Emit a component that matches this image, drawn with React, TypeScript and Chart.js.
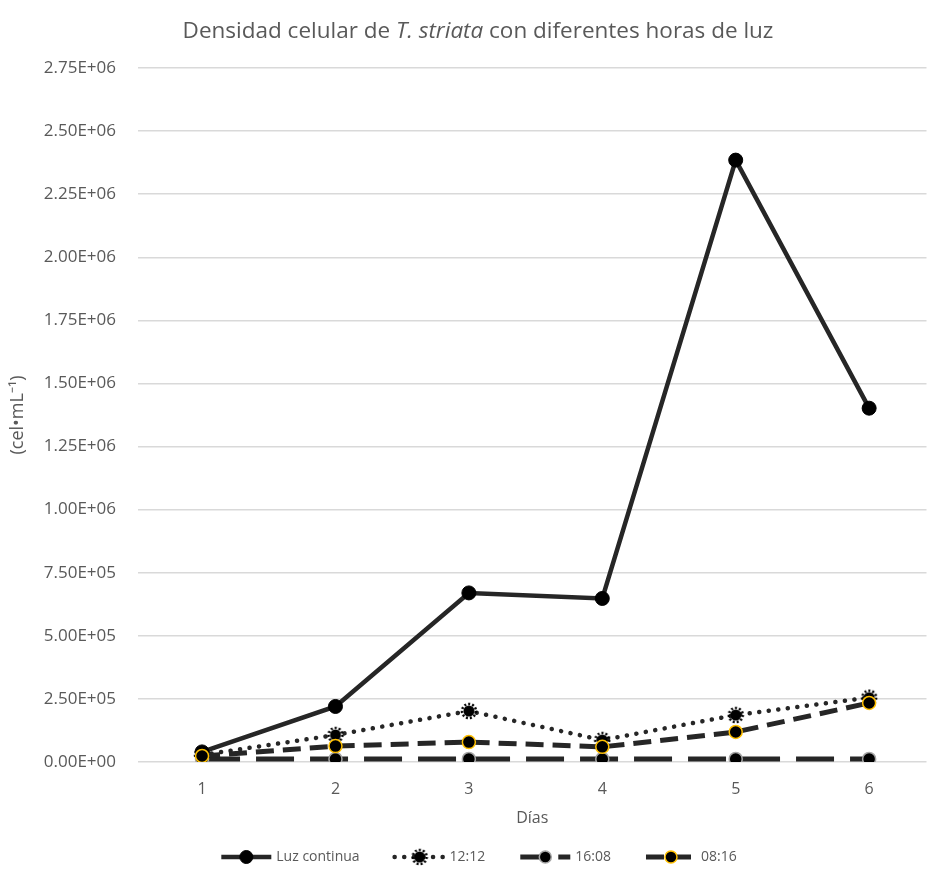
import React, { useEffect, useRef } from "react";
import { Chart, registerables } from "chart.js";

Chart.register(...registerables);

const days = [1, 2, 3, 4, 5, 6];
const luzContinua = [40000, 220000, 670000, 648000, 2385000, 1402000];
const luz1212 = [28000, 107000, 202000, 87000, 186000, 255000];
const luz1608 = [12000, 12000, 12000, 12000, 12000, 12000];
const luz0816 = [24000, 63000, 79000, 60000, 119000, 234000];
const seriesNames = ["Luz continua", "12:12", "16:08", "08:16"];
const titleParts = [
  { text: "Densidad celular de ", italic: false },
  { text: "T. striata", italic: true },
  { text: " con diferentes horas de luz", italic: false },
];
const yTitle = "(cel\u2022mL\u207B\u00B9)";
const xTitle = "Días";

const FONT = "'Open Sans', 'Liberation Sans', sans-serif";
const GREY = "#595959";
const LINE = "#262626";

function fmtExp(v: number): string {
  const [m, e] = v.toExponential(2).split("e");
  const sign = e[0];
  const digits = e.slice(1).padStart(2, "0");
  return m + "E" + sign + digits;
}

function makeDottedMarker(): HTMLCanvasElement {
  const c = document.createElement("canvas");
  c.width = 18;
  c.height = 18;
  const ctx = c.getContext("2d")!;
  ctx.fillStyle = "#000";
  ctx.beginPath();
  ctx.arc(9, 9, 5.5, 0, Math.PI * 2);
  ctx.fill();
  ctx.strokeStyle = "#000";
  ctx.lineWidth = 2.5;
  ctx.setLineDash([2, 2]);
  ctx.beginPath();
  ctx.arc(9, 9, 7, 0, Math.PI * 2);
  ctx.stroke();
  return c;
}

export default function App() {
  const ref = useRef<HTMLCanvasElement | null>(null);

  useEffect(() => {
    if (!ref.current) return;
    const dotted = makeDottedMarker();
    const pts = (arr: number[]) => days.map((d, i) => ({ x: d, y: arr[i] }));

    const datasets: any[] = [
      {
        label: seriesNames[0],
        data: pts(luzContinua),
        borderColor: LINE,
        borderWidth: 4.5,
        pointRadius: 7,
        pointBackgroundColor: "#000",
        pointBorderColor: "#000",
        pointBorderWidth: 1,
        order: 3,
      },
      {
        label: seriesNames[1],
        data: pts(luz1212),
        borderColor: LINE,
        borderWidth: 4.5,
        borderDash: [0.1, 9.5],
        borderCapStyle: "round",
        pointStyle: dotted,
        pointRadius: 8,
        order: 2,
      },
      {
        label: seriesNames[2],
        data: pts(luz1608),
        borderColor: LINE,
        borderWidth: 5,
        borderDash: [38, 16],
        pointRadius: 6.5,
        pointBackgroundColor: "#000",
        pointBorderColor: "#a6a6a6",
        pointBorderWidth: 1.5,
        order: 1,
      },
      {
        label: seriesNames[3],
        data: pts(luz0816),
        borderColor: LINE,
        borderWidth: 5,
        borderDash: [18, 9],
        pointRadius: 6.5,
        pointBackgroundColor: "#000",
        pointBorderColor: "#ffc000",
        pointBorderWidth: 1.5,
        order: 0,
      },
    ];

    const textPlugin = {
      id: "texts",
      afterDraw(chart: any) {
        const ctx = chart.ctx as CanvasRenderingContext2D;
        const ca = chart.chartArea;
        ctx.save();
        // title
        ctx.fillStyle = GREY;
        ctx.textBaseline = "middle";
        ctx.textAlign = "left";
        const tSize = 22.5;
        let total = 0;
        const widths = titleParts.map((p) => {
          ctx.font = `${p.italic ? "italic " : ""}${tSize}px ${FONT}`;
          const w = ctx.measureText(p.text).width;
          total += w;
          return w;
        });
        let x = 478 - total / 2;
        titleParts.forEach((p, i) => {
          ctx.font = `${p.italic ? "italic " : ""}${tSize}px ${FONT}`;
          ctx.fillText(p.text, x, 32);
          x += widths[i];
        });
        // x title
        ctx.font = `16px ${FONT}`;
        ctx.textAlign = "center";
        ctx.fillText(xTitle, (ca.left + ca.right) / 2, 818);
        // y title
        ctx.save();
        ctx.translate(18, (ca.top + ca.bottom) / 2);
        ctx.rotate(-Math.PI / 2);
        ctx.font = `18px ${FONT}`;
        ctx.fillText(yTitle, 0, 0);
        ctx.restore();

        // legend
        ctx.font = `14px ${FONT}`;
        const lineLen = 50;
        const gapText = 5;
        const gapItem = 35;
        const items = chart.data.datasets.map((ds: any) => ({
          ds,
          w: ctx.measureText(ds.label).width,
        }));
        let lw = 0;
        items.forEach((it: any, i: number) => {
          lw += lineLen + gapText + it.w + (i < items.length - 1 ? gapItem : 0);
        });
        let lx = 479 - lw / 2;
        const ly = 857;
        items.forEach((it: any) => {
          const ds = it.ds;
          ctx.save();
          ctx.strokeStyle = ds.borderColor;
          ctx.lineWidth = ds.borderWidth;
          ctx.lineCap = ds.borderCapStyle || "butt";
          if (ds.borderDash) {
            const d = ds.borderDash.map((v: number) => (v > 20 ? 22 : v));
            ctx.setLineDash(d);
          }
          ctx.beginPath();
          ctx.moveTo(lx, ly);
          ctx.lineTo(lx + lineLen, ly);
          ctx.stroke();
          ctx.setLineDash([]);
          const cx = lx + lineLen / 2;
          if (ds.pointStyle && typeof ds.pointStyle !== "string") {
            const img = ds.pointStyle as HTMLCanvasElement;
            ctx.drawImage(img, cx - img.width / 2, ly - img.height / 2);
          } else {
            ctx.fillStyle = ds.pointBackgroundColor;
            ctx.strokeStyle = ds.pointBorderColor;
            ctx.lineWidth = ds.pointBorderWidth;
            ctx.beginPath();
            ctx.arc(cx, ly, ds.pointRadius - 0.5, 0, Math.PI * 2);
            ctx.fill();
            ctx.stroke();
          }
          ctx.restore();
          ctx.fillStyle = GREY;
          ctx.textAlign = "left";
          ctx.textBaseline = "middle";
          ctx.fillText(ds.label, lx + lineLen + gapText, ly);
          lx += lineLen + gapText + it.w + gapItem;
        });
        ctx.restore();
      },
    };

    const chart = new Chart(ref.current, {
      type: "line",
      data: { datasets },
      options: {
        animation: false,
        responsive: false,
        devicePixelRatio: 1,
        layout: { padding: { top: 68, right: 0, bottom: 88, left: 0 } },
        plugins: {
          legend: { display: false },
          title: { display: false },
          tooltip: { enabled: false },
        },
        elements: { line: { tension: 0 } },
        scales: {
          x: {
            type: "linear",
            min: 0.52,
            max: 6.43,
            grid: { display: false, drawTicks: false },
            border: { display: false },
            ticks: {
              stepSize: 1,
              includeBounds: false,
              padding: 18,
              color: GREY,
              font: { family: FONT, size: 16 },
              callback: (v: any) => String(v),
            },
            afterFit: (s: any) => {
              s.height = 40;
            },
          },
          y: {
            min: 0,
            max: 2750000,
            grid: { color: "#d9d9d9", lineWidth: 1.5, drawTicks: false },
            border: { display: false },
            ticks: {
              stepSize: 250000,
              padding: 22,
              color: GREY,
              font: { family: FONT, size: 17 },
              callback: (v: any) => fmtExp(Number(v)),
            },
            afterFit: (s: any) => {
              s.width = 138;
            },
          },
        },
      },
      plugins: [textPlugin],
    });
    return () => chart.destroy();
  }, []);

  return (
    <div style={{ position: "absolute", left: 0, top: 0, width: 939, height: 890, background: "#fff" }}>
      <canvas ref={ref} width={939} height={890} />
    </div>
  );
}
